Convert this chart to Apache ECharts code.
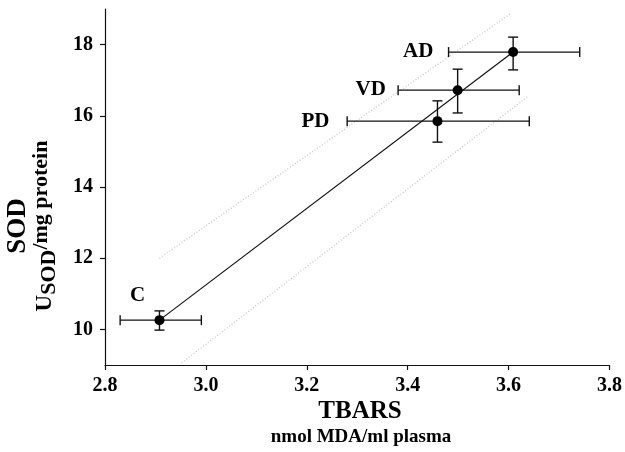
<!DOCTYPE html>
<html><head><meta charset="utf-8">
<script src="https://cdn.jsdelivr.net/npm/echarts@6/dist/echarts.min.js"></script>
<style>html,body{margin:0;padding:0;background:#fff}#c{width:625px;height:452px}</style>
</head><body><div id="c"></div><script>
// ---- data ----
const groups = ['C', 'PD', 'VD', 'AD'];
const tbars = [2.908, 3.459, 3.499, 3.609];
const tbarsLow = [2.83, 3.28, 3.381, 3.481];
const tbarsHigh = [2.991, 3.641, 3.621, 3.741];
const sod = [10.26, 15.85, 16.72, 17.79];
const sodLow = [9.98, 15.26, 16.08, 17.29];
const sodHigh = [10.52, 16.42, 17.31, 18.21];
const upperBandX = [2.908, 3.606];
const upperBandY = [12.0, 18.89];
const lowerBandX = [2.952, 3.637];
const lowerBandY = [9.06, 16.53];
const yTicks = [10, 12, 14, 16, 18];

// ---- styles ----
const FONT = "'Liberation Serif', 'Times New Roman', serif";
const INK = '#000';
const labelOffset = { C: [-22, -25], PD: [-122, 0], VD: [-87, -1], AD: [-95, 0] };

const chart = echarts.init(document.getElementById('c'), null, { renderer: 'canvas' });

const errData = groups.map((g, i) => [tbars[i], sod[i], tbarsLow[i], tbarsHigh[i], sodLow[i], sodHigh[i]]);
const pts = groups.map((g, i) => ({
  value: [tbars[i], sod[i]], name: g,
  label: { offset: labelOffset[g] }
}));

chart.setOption({
  animation: false,
  grid: { left: 105, right: 12, top: 9, bottom: 87 },
  xAxis: {
    type: 'value', min: 2.8, max: 3.8, interval: 0.2,
    axisLine: { show: true, lineStyle: { color: '#111', width: 1.2 } },
    axisTick: { show: true, length: 5, lineStyle: { color: '#111', width: 1.2 } },
    axisLabel: { margin: 11, color: INK, fontFamily: FONT, fontWeight: 'bold', fontSize: 20,
      formatter: v => v.toFixed(1) },
    splitLine: { show: false }
  },
  yAxis: {
    type: 'value', min: 9, max: 19,
    axisLine: { show: true, lineStyle: { color: '#111', width: 1.2 } },
    axisTick: { show: true, length: 5, customValues: yTicks, lineStyle: { color: '#111', width: 1.2 } },
    axisLabel: { margin: 12, color: INK, fontFamily: FONT, fontWeight: 'bold', fontSize: 20,
      customValues: yTicks },
    splitLine: { show: false }
  },
  graphic: [
    { type: 'text', x: 360, y: 412, style: { text: 'TBARS', font: "bold 25px " + FONT, fill: INK, align: 'center', verticalAlign: 'middle' } },
    { type: 'text', x: 361, y: 437, style: { text: 'nmol MDA/ml plasma', font: "bold 19px " + FONT, fill: INK, align: 'center', verticalAlign: 'middle' } },
    { type: 'text', x: 18, y: 226, rotation: Math.PI / 2, style: { text: 'SOD', font: "bold 27px " + FONT, fill: INK, align: 'center', verticalAlign: 'middle' } },
    { type: 'text', x: 45, y: 226, rotation: Math.PI / 2, style: {
      text: '{u|U}{s|SOD}{m|/mg protein}', fill: INK, align: 'center', verticalAlign: 'middle',
      rich: {
        u: { font: "bold 23px " + FONT, fill: INK, lineHeight: 30, verticalAlign: 'middle' },
        s: { font: "bold 22px " + FONT, fill: INK, lineHeight: 22, verticalAlign: 'bottom' },
        m: { font: "bold 22px " + FONT, fill: INK, lineHeight: 27, verticalAlign: 'top' }
      } } }
  ],
  series: [
    { type: 'line', data: upperBandX.map((x, i) => [x, upperBandY[i]]), symbol: 'none',
      lineStyle: { color: '#c8c8c8', width: 1.3, type: [1, 2] }, z: 1, silent: true },
    { type: 'line', data: lowerBandX.map((x, i) => [x, lowerBandY[i]]), symbol: 'none',
      lineStyle: { color: '#c8c8c8', width: 1.3, type: [1, 2] }, z: 1, silent: true },
    { type: 'line', data: [[tbars[0], sod[0]], [tbars[3], sod[3]]], symbol: 'none',
      lineStyle: { color: '#111', width: 1.2 }, z: 2, silent: true },
    { type: 'custom', data: errData, encode: { x: 0, y: 1 }, z: 3,
      renderItem: (params, api) => {
        const x = api.value(0), y = api.value(1);
        const pL = api.coord([api.value(2), y]), pR = api.coord([api.value(3), y]);
        const pB = api.coord([x, api.value(4)]), pT = api.coord([x, api.value(5)]);
        const c = 5, st = { stroke: '#111', lineWidth: 1.4 };
        const ln = (x1, y1, x2, y2) => ({ type: 'line', shape: { x1, y1, x2, y2 }, style: st });
        return { type: 'group', children: [
          ln(pL[0], pL[1], pR[0], pR[1]),
          ln(pL[0], pL[1] - c, pL[0], pL[1] + c),
          ln(pR[0], pR[1] - c, pR[0], pR[1] + c),
          ln(pT[0], pT[1], pB[0], pB[1]),
          ln(pT[0] - c, pT[1], pT[0] + c, pT[1]),
          ln(pB[0] - c, pB[1], pB[0] + c, pB[1])
        ] };
      } },
    { type: 'scatter', data: pts, symbol: 'circle', symbolSize: 10, z: 4,
      itemStyle: { color: '#000', opacity: 1 },
      label: { show: true, position: 'inside', formatter: p => p.name, color: INK,
        textBorderWidth: 0, fontFamily: FONT, fontWeight: 'bold', fontSize: 21 } }
  ]
});
</script></body></html>
